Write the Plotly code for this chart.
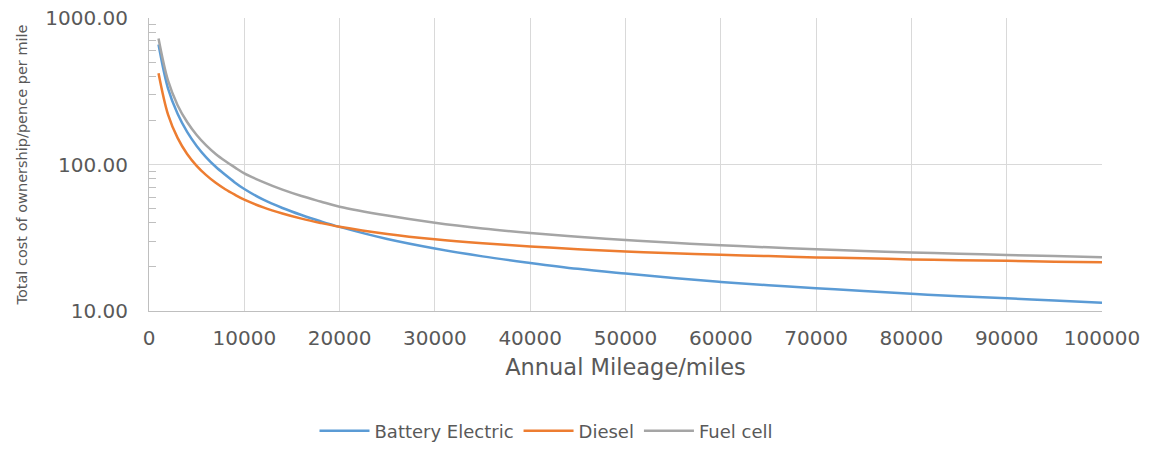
import plotly.graph_objects as go

mileage = [1000, 2000, 3000, 4000, 5000, 6000, 7000, 8000, 9000, 10000,
           12000, 14000, 16000, 18000, 20000, 25000, 30000, 35000, 40000, 45000,
           50000, 55000, 60000, 65000, 70000, 75000, 80000, 85000, 90000, 95000, 100000]

battery_electric = [660, 330, 222, 167, 134, 112, 96.5, 85, 75.5, 68,
                    57.5, 50.5, 45.2, 41.0, 37.5, 31.0, 26.7, 23.6, 21.3, 19.4,
                    18.0, 16.8, 15.8, 15.0, 14.3, 13.7, 13.1, 12.6, 12.2, 11.8, 11.4]

diesel = [420, 219, 152, 118, 98, 84.6, 75, 67.8, 62.2, 57.5,
          51, 46.3, 42.7, 39.9, 37.6, 33.6, 30.9, 29.0, 27.6, 26.4,
          25.5, 24.8, 24.2, 23.7, 23.2, 22.9, 22.5, 22.2, 22.0, 21.7, 21.5]

fuel_cell = [725, 373, 254, 195, 159, 135, 118, 105.6, 95.6, 87.0,
             75.8, 67.3, 60.9, 55.9, 51.5, 44.8, 40.0, 36.6, 34.1, 32.1,
             30.5, 29.2, 28.1, 27.2, 26.4, 25.7, 25.1, 24.6, 24.1, 23.7, 23.3]

series = [("Battery Electric", battery_electric, "#5b9bd5"),
          ("Diesel", diesel, "#ed7d31"),
          ("Fuel cell", fuel_cell, "#a5a5a5")]

y_ticks = [10, 100, 1000]
x_ticks = list(range(0, 100001, 10000))

font_color = "#595959"
grid_color = "#d9d9d9"
axis_color = "#bfbfbf"

fig = go.Figure()
for name, vals, color in series:
    fig.add_trace(go.Scatter(x=mileage, y=vals, name=name, mode="lines",
                             line=dict(color=color, width=2.5, shape="spline")))

fig.update_layout(
    width=1151, height=450,
    margin=dict(l=141, r=57, t=10, b=147),
    paper_bgcolor="white", plot_bgcolor="white",
    font=dict(family="DejaVu Sans", size=20, color=font_color),
    showlegend=True,
    legend=dict(orientation="h", xref="container", yref="container",
                x=538 / 1151, xanchor="center", y=1 - 423 / 450, yanchor="middle",
                font=dict(size=18, color=font_color), itemwidth=50,
                traceorder="normal"),
)

fig.update_xaxes(
    range=[0, 100000], tickvals=x_ticks, ticktext=[str(v) for v in x_ticks],
    showgrid=True, gridcolor=grid_color, gridwidth=1,
    showline=True, linecolor=axis_color, linewidth=1,
    ticks="", zeroline=False, automargin=False,
    tickfont=dict(size=20), ticklabeloverflow="allow",
    ticklabelstandoff=9,
    title=dict(text="Annual Mileage/miles", standoff=10,
               font=dict(size=22.5, color=font_color)),
)

fig.update_yaxes(
    type="log", range=[1, 3],
    tickvals=y_ticks, ticktext=[f"{v:.2f}" for v in y_ticks],
    showgrid=True, gridcolor=grid_color, gridwidth=1,
    showline=True, linecolor=axis_color, linewidth=1,
    ticks="", zeroline=False, automargin=False,
    tickfont=dict(size=20), ticklabeloverflow="allow",
    ticklabelstandoff=16,
    minor=dict(ticks="inside", ticklen=7, tickcolor=axis_color, showgrid=False,
               tickvals=[v * m for v in [10, 100] for m in range(2, 10)]),
    title=dict(text="Total cost of ownership/pence per mile", standoff=14,
               font=dict(family="DejaVu Sans", size=14.5, color=font_color)),
)

fig.write_html("out.html")
